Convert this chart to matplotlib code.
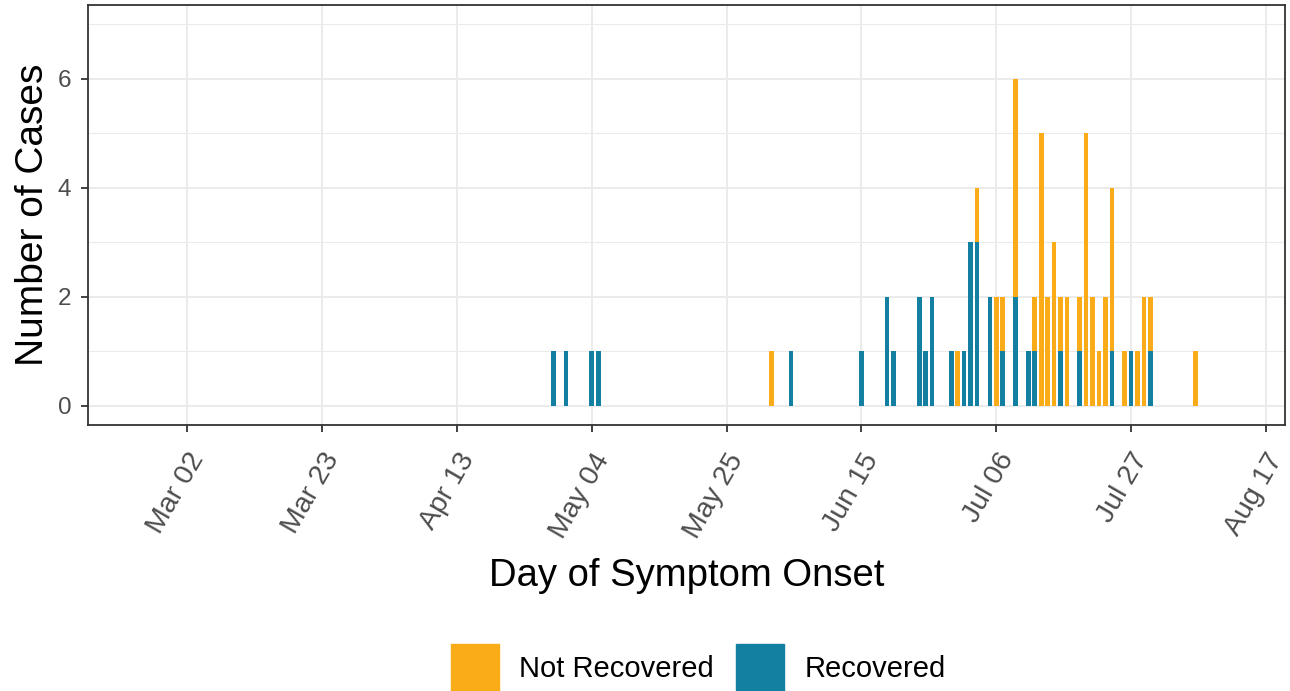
import matplotlib
matplotlib.use("Agg")
import matplotlib.pyplot as plt
import matplotlib.dates as mdates
import matplotlib.patches as mpatches
import numpy as np
import pandas as pd

plt.rcParams['font.family'] = ['Liberation Sans', 'DejaVu Sans']

# ---- data ----
onset_dates = ["2020-04-28", "2020-04-30", "2020-05-04", "2020-05-05", "2020-06-01",
               "2020-06-04", "2020-06-15", "2020-06-19", "2020-06-20", "2020-06-24",
               "2020-06-25", "2020-06-26", "2020-06-29", "2020-06-30", "2020-07-01",
               "2020-07-02", "2020-07-03", "2020-07-05", "2020-07-06", "2020-07-07",
               "2020-07-09", "2020-07-11", "2020-07-12", "2020-07-13", "2020-07-14",
               "2020-07-15", "2020-07-16", "2020-07-17", "2020-07-19", "2020-07-20",
               "2020-07-21", "2020-07-22", "2020-07-23", "2020-07-24", "2020-07-26",
               "2020-07-27", "2020-07-28", "2020-07-29", "2020-07-30", "2020-08-06"]
recovered = [1, 1, 1, 1, 0, 1, 1, 2, 1, 2,
             1, 2, 1, 0, 1, 3, 3, 2, 0, 1,
             2, 1, 1, 0, 0, 0, 1, 0, 1, 0,
             0, 0, 0, 1, 0, 1, 0, 0, 1, 0]
not_recovered = [0, 0, 0, 0, 1, 0, 0, 0, 0, 0,
                 0, 0, 0, 1, 0, 0, 1, 0, 2, 1,
                 4, 0, 1, 5, 2, 3, 1, 2, 1, 5,
                 2, 1, 2, 3, 1, 0, 1, 2, 1, 1]
tick_dates = ["2020-03-02", "2020-03-23", "2020-04-13", "2020-05-04", "2020-05-25",
              "2020-06-15", "2020-07-06", "2020-07-27", "2020-08-17"]
tick_labels = ["Mar 02", "Mar 23", "Apr 13", "May 04", "May 25",
               "Jun 15", "Jul 06", "Jul 27", "Aug 17"]
series_names = ["Not Recovered", "Recovered"]
colors = {"Not Recovered": "#FAAB18", "Recovered": "#1380A1"}

x = pd.to_datetime(onset_dates)
rec = np.array(recovered)
notrec = np.array(not_recovered)
ticks = pd.to_datetime(tick_dates)

fig = plt.figure(figsize=(12.9, 6.91), dpi=100)
ax = fig.add_axes([88/1290, 1-425/691, (1285-88)/1290, (425-5)/691])

ax.bar(x, rec, width=0.72, color=colors["Recovered"], linewidth=0, zorder=3)
ax.bar(x, notrec, width=0.72, bottom=rec, color=colors["Not Recovered"], linewidth=0, zorder=3)

x0 = mdates.date2num(pd.Timestamp("2020-03-02"))
ax.set_xlim(x0 - 15.47, x0 + 170.97)
ax.set_ylim(-0.35, 7.35)

ax.set_xticks(ticks)
ax.set_xticklabels(tick_labels)
ax.set_yticks([0, 2, 4, 6])
ax.set_yticks([1, 3, 5, 7], minor=True)
ax.grid(which='major', color='#EBEBEB', linewidth=1.4, zorder=0)
ax.grid(which='minor', axis='y', color='#EBEBEB', linewidth=0.8, zorder=0)
ax.set_axisbelow(True)

for s in ax.spines.values():
    s.set_color('#333333')
    s.set_linewidth(1.3)

ax.tick_params(axis='both', which='major', color='#333333', length=5, width=1.3,
               labelcolor='#4D4D4D')
ax.tick_params(axis='y', which='major', labelsize=17.5, pad=7)
ax.tick_params(axis='x', which='major', labelsize=20.5, pad=12)
ax.tick_params(axis='y', which='minor', length=0)
for lab in ax.get_xticklabels():
    lab.set_rotation(60)
    lab.set_ha('right')
    lab.set_va('top')
    lab.set_rotation_mode('anchor')

ax.set_ylabel("Number of Cases", fontsize=28, color='black', labelpad=5)
ax.set_xlabel("Day of Symptom Onset", fontsize=27.5, color='black', labelpad=11)

handles = [mpatches.Patch(color=colors[n], label=n) for n in series_names]
fig.legend(handles=handles, loc='upper center', bbox_to_anchor=(698/1290, 1-618/691),
           ncol=2, frameon=False, fontsize=21, handlelength=1.65, handleheight=2.1,
           handletextpad=0.7, columnspacing=0.75)

fig.savefig("out.png", dpi=100)
